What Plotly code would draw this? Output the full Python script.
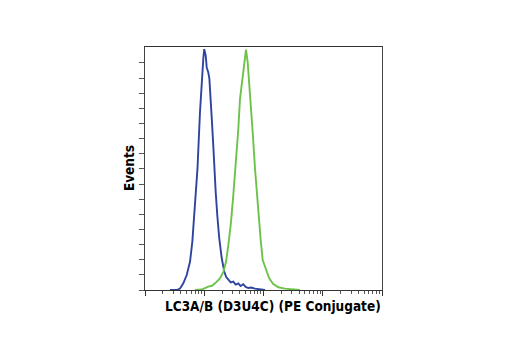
import plotly.graph_objects as go

# Fluorescence intensity (log scale channel values) and event counts
blue_x = [2.64, 3.43, 3.90, 4.43, 5.06, 5.75, 6.29, 6.80, 7.26, 7.69, 8.47, 9.06, 9.64, 10.0,
          10.6, 11.0, 11.7, 12.2, 12.8, 13.4, 14.2, 14.8, 15.6, 16.6, 17.9, 19.7, 21.8, 23.5,
          25.5, 28.0, 30.9, 34.0, 37.6, 41.0, 45.6, 50.0, 55.4, 62.0, 71.9, 85.0, 106.0]
blue_y = [0, 0, 1.0, 4.4, 9.9, 18.6, 31.8, 49.4, 64.7, 80.3, 117.4, 139.6, 152.8, 159.1,
          154.7, 147.0, 143.7, 139.6, 128.4, 113.2, 95.5, 80.3, 64.7, 49.4, 34.2, 21.1, 12.0, 8.5,
          6.6, 5.0, 5.5, 3.6, 4.4, 2.6, 3.8, 2.0, 1.3, 1.6, 0.9, 0.4, 0]

green_x = [6.98, 9.06, 11.7, 13.5, 15.2, 18.4, 21.0, 23.3, 25.5, 28.3, 30.9, 34.0, 37.6, 40.1,
           43.9, 47.4, 50.7, 54.1, 56.9, 61.5, 65.7, 71.9, 76.8, 81.7, 89.7, 96.9, 110.0, 125.0,
           146.0, 178.0, 231.0, 413.0]
green_y = [0, 0.3, 2.2, 2.8, 4.4, 7.7, 12.0, 18.6, 29.6, 45.0, 62.5, 81.2, 106.5, 126.2,
           139.4, 152.6, 158.7, 150.3, 139.4, 121.8, 104.2, 80.1, 65.8, 48.3, 32.9, 19.8, 13.2, 7.7,
           4.0, 1.8, 0.9, 0]

x_title = "LC3A/B (D3U4C) (PE Conjugate)"
y_title = "Events"

decades = [1, 10, 100, 1000, 10000]
minor_vals = [d * k for d in decades[:-1] for k in range(2, 10)]
y_ticks = list(range(0, 160, 10))

font_fam = "Liberation Sans Narrow, DejaVu Sans Condensed, Arial Narrow, sans-serif"

fig = go.Figure()
fig.add_trace(go.Scatter(x=blue_x, y=blue_y, mode="lines",
                         line=dict(color="#2e45a0", width=1.9), showlegend=False))
fig.add_trace(go.Scatter(x=green_x, y=green_y, mode="lines",
                         line=dict(color="#6cc24a", width=1.9), showlegend=False))

fig.update_layout(
    width=519, height=355,
    margin=dict(l=137, r=145, t=39, b=73),
    paper_bgcolor="white", plot_bgcolor="white",
    showlegend=False,
    xaxis=dict(type="log", range=[0, 4], showgrid=False, zeroline=False,
               tickvals=decades, ticks="outside", ticklen=5, tickcolor="#333",
               showticklabels=False, showline=True, linecolor="#333", linewidth=1,
               mirror=True,
               minor=dict(tickvals=minor_vals, ticks="outside", ticklen=3,
                          tickcolor="#555", showgrid=False)),
    yaxis=dict(range=[0, 160.5], showgrid=False, zeroline=False,
               tickvals=y_ticks, ticks="outside", ticklen=5, tickcolor="#555",
               showticklabels=False, showline=True, linecolor="#444", linewidth=1,
               mirror=True),
    annotations=[
        dict(text="<b>" + x_title + "</b>", xref="paper", yref="paper",
             x=0.54, y=-0.025, xanchor="center", yanchor="top", showarrow=False,
             font=dict(family=font_fam, size=13.5, color="black")),
        dict(text="<b>" + y_title + "</b>", xref="paper", yref="paper",
             x=-0.027, y=0.5, xanchor="right", yanchor="middle", showarrow=False,
             textangle=-90, font=dict(family=font_fam, size=13.5, color="black")),
    ],
)

fig.write_html("out.html")
